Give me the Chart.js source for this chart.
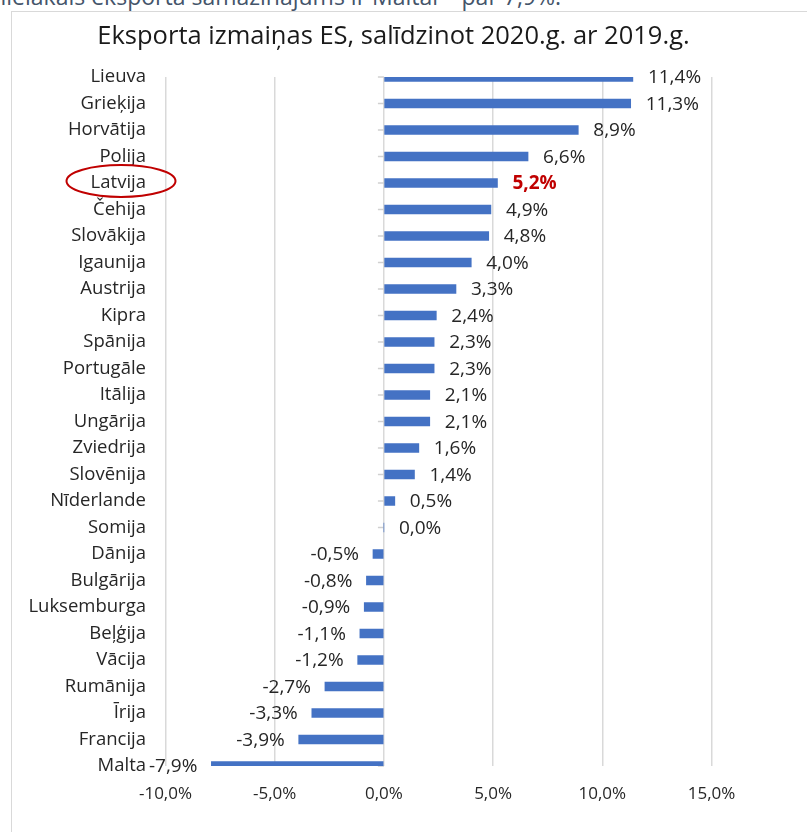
<!DOCTYPE html>
<html>
<head>
<meta charset="utf-8">
<script src="https://cdn.jsdelivr.net/npm/chart.js@4.4.1/dist/chart.umd.min.js"></script>
<style>
  html, body { margin: 0; padding: 0; background: #ffffff; width: 807px; height: 832px; overflow: hidden; }
  #wrap { position: relative; width: 807px; height: 832px; overflow: hidden; }
  #note { position: absolute; left: -30px; top: -15px; font-family: 'Open Sans', sans-serif; font-size: 23px; line-height: 23px; color: #44546A; white-space: nowrap; }
  #frame { position: absolute; left: 11px; top: 11px; width: 900px; height: 900px; border: 1.5px solid #D9D9D9; box-sizing: border-box; }
  #title { position: absolute; left: 93.5px; width: 600px; top: 19px; text-align: center; font-family: 'Open Sans', sans-serif; font-size: 25.5px; line-height: 30.6px; color: #1a1a1a; white-space: nowrap; z-index: 2; }
  #c { position: absolute; left: 0; top: 0; }
</style>
</head>
<body>
<div id="wrap">
  <div id="note">Vislielākais eksporta samazinājums ir Maltai – par 7,9%.</div>
  <div id="frame"></div>
  <div id="title"></div>
  <canvas id="c" width="807" height="832"></canvas>
</div>
<script>
// ---- data ----
const chartTitle = 'Eksporta izmaiņas ES, salīdzinot 2020.g. ar 2019.g.';
const categories = ['Lieuva','Grieķija','Horvātija','Polija','Latvija','Čehija','Slovākija','Igaunija','Austrija','Kipra','Spānija','Portugāle','Itālija','Ungārija','Zviedrija','Slovēnija','Nīderlande','Somija','Dānija','Bulgārija','Luksemburga','Beļģija','Vācija','Rumānija','Īrija','Francija','Malta'];
const values = [11.4, 11.3, 8.9, 6.6, 5.2, 4.9, 4.8, 4.0, 3.3, 2.4, 2.3, 2.3, 2.1, 2.1, 1.6, 1.4, 0.5, 0.0, -0.5, -0.8, -0.9, -1.1, -1.2, -2.7, -3.3, -3.9, -7.9];
const xMin = -10;
const xMax = 15;
const xStep = 5;
const highlighted = 'Latvija';

document.getElementById('title').textContent = chartTitle;

const fmt = v => v.toFixed(1).replace('.', ',') + '%';

const valueLabels = {
  id: 'valueLabels',
  afterDatasetsDraw(chart) {
    const ctx = chart.ctx;
    const meta = chart.getDatasetMeta(0);
    ctx.save();
    ctx.textBaseline = 'middle';
    meta.data.forEach((bar, i) => {
      const v = values[i];
      const hl = categories[i] === highlighted;
      ctx.font = (hl ? 'bold ' : '') + '19px "Open Sans", sans-serif';
      ctx.fillStyle = hl ? '#C00000' : '#262626';
      if (v >= 0) { ctx.textAlign = 'left'; ctx.fillText(fmt(v), bar.x + 15, bar.y + 1); }
      else { ctx.textAlign = 'right'; ctx.fillText(fmt(v), bar.x - 14, bar.y + 1); }
    });
    ctx.restore();
  }
};

const zeroAxis = {
  id: 'zeroAxis',
  beforeDatasetsDraw(chart) {
    const ctx = chart.ctx;
    const xs = chart.scales.x, ys = chart.scales.y;
    const x0 = xs.getPixelForValue(0);
    ctx.save();
    ctx.strokeStyle = '#D0D0D0';
    ctx.lineWidth = 1.5;
    categories.forEach((c, i) => {
      const y = ys.getPixelForValue(i);
      ctx.beginPath();
      ctx.moveTo(x0 - 6, y);
      ctx.lineTo(x0, y);
      ctx.stroke();
    });
    ctx.restore();
  }
};

const circleMark = {
  id: 'circleMark',
  afterDraw(chart) {
    const ctx = chart.ctx;
    const ys = chart.scales.y;
    const idx = categories.indexOf(highlighted);
    const y = ys.getPixelForValue(idx) - 2;
    const xRight = ys.right - 19.5;
    ctx.save();
    ctx.strokeStyle = '#C00000';
    ctx.lineWidth = 2;
    ctx.beginPath();
    ctx.ellipse(xRight - 25, y, 54.5, 16, 0, 0, Math.PI * 2);
    ctx.stroke();
    ctx.restore();
  }
};

new Chart(document.getElementById('c'), {
  type: 'bar',
  data: {
    labels: categories,
    datasets: [{
      data: values,
      backgroundColor: '#4472C4',
      borderWidth: 0,
      barThickness: 9,
      clip: 0
    }]
  },
  options: {
    responsive: false,
    devicePixelRatio: 1,
    animation: false,
    indexAxis: 'y',
    layout: { padding: { left: 0, right: 95.5, top: 77, bottom: 26 } },
    plugins: {
      legend: { display: false },
      tooltip: { enabled: false },
      title: { display: false }
    },
    scales: {
      x: {
        min: xMin, max: xMax,
        ticks: {
          stepSize: xStep,
          callback: v => fmt(v),
          color: '#262626',
          font: { family: '"Open Sans", sans-serif', size: 17 },
          padding: 18,
          maxRotation: 0
        },
        grid: { color: '#D9D9D9', lineWidth: 1.5, drawTicks: false },
        border: { display: false },
        afterFit: s => { s.height = 40; }
      },
      y: {
        offset: false,
        grid: { display: false, drawTicks: false },
        border: { display: false },
        ticks: {
          color: '#262626',
          font: { family: '"Open Sans", sans-serif', size: 18.5 },
          padding: 19.5,
          autoSkip: false
        },
        afterFit: s => { s.width = 165.5; }
      }
    }
  },
  plugins: [zeroAxis, valueLabels, circleMark]
});
</script>
</body>
</html>
